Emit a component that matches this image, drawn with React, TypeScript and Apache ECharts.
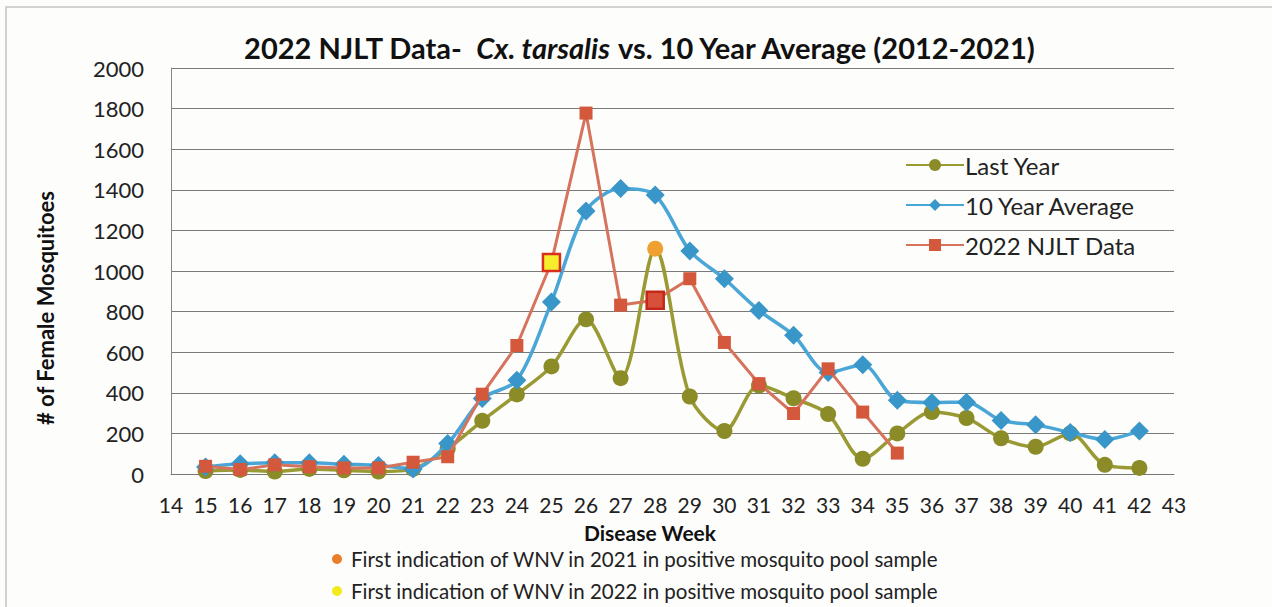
import React, { useEffect, useRef } from "react";
import * as echarts from "echarts";

const weeks = [15, 16, 17, 18, 19, 20, 21, 22, 23, 24, 25, 26, 27, 28, 29, 30, 31, 32, 33, 34, 35, 36, 37, 38, 39, 40, 41, 42];
const lastYear = [15, 20, 12, 25, 18, 12, 25, 125, 262, 392, 530, 762, 472, 1110, 382, 212, 436, 373, 295, 75, 200, 305, 276, 176, 134, 200, 45, 30];
const tenYearAvg = [35, 50, 55, 55, 48, 42, 25, 150, 372, 462, 847, 1296, 1406, 1374, 1099, 962, 806, 684, 500, 538, 363, 352, 354, 264, 242, 205, 170, 212];
const njlt2022 = [38, 22, 45, 36, 30, 30, 58, 85, 393, 633, 1042, 1778, 832, 856, 962, 648, 445, 298, 518, 305, 103];
const xTicks = { min: 14, max: 43, step: 1 };
const yTicks = { min: 0, max: 2000, step: 200 };
const firstWnv2021Week = 28;
const firstWnv2022Week = 25;
const emphasized2022Week = 28;

const FONT = "Lato, 'Open Sans', sans-serif";

export default function App() {
  const ref = useRef<HTMLDivElement>(null);
  useEffect(() => {
    document.body.style.margin = "0";
    const chart = echarts.init(ref.current!, null, { renderer: "svg" });

    const olive = "#9a9a35";
    const oliveM = "#8b8b28";
    const blue = "#4aa6d6";
    const blueM = "#3996c8";
    const red = "#d6735c";
    const redM = "#d4583c";

    const lyData = weeks.map((w, i) =>
      w === firstWnv2021Week
        ? { value: [w, lastYear[i]], itemStyle: { color: "#f0a030" } }
        : [w, lastYear[i]]
    );
    const tyData = weeks.map((w, i) => [w, tenYearAvg[i]]);
    const njData = njlt2022.map((v, i) => {
      const w = weeks[i];
      if (w === firstWnv2022Week)
        return { value: [w, v], symbolSize: 17, itemStyle: { color: "#f6ee2c", borderColor: "#d8301c", borderWidth: 2.5 } };
      if (w === emphasized2022Week)
        return { value: [w, v], symbolSize: 17, itemStyle: { color: "#d9503a", borderColor: "#c32818", borderWidth: 2.5 } };
      return [w, v];
    });

    chart.setOption({
      animation: false,
      backgroundColor: "#fdfdfc",
      textStyle: { fontFamily: FONT },
      title: {
        text: "{b|2022 NJLT Data-  }{i|Cx. tarsalis}{b| vs. 10 Year Average (2012-2021)}",
        left: 635,
        textAlign: "center",
        top: 28,
        textStyle: {
          rich: {
            b: { fontFamily: FONT, fontWeight: "bold", fontSize: 29, color: "#111" },
            i: { fontFamily: FONT, fontWeight: "bold", fontStyle: "italic", fontSize: 29, color: "#111" },
          },
        },
      },
      grid: { left: 171, right: 98, top: 68, bottom: 133, containLabel: false },
      legend: {
        orient: "vertical",
        left: 900,
        top: 146,
        itemWidth: 58,
        itemHeight: 15,
        itemGap: 12,
        textStyle: { fontFamily: FONT, fontSize: 24, lineHeight: 28, color: "#222", padding: [0, 0, 0, -4] },
        data: ["Last Year", "10 Year Average", "2022 NJLT Data"],
      },
      xAxis: {
        type: "value",
        min: xTicks.min,
        max: xTicks.max,
        interval: xTicks.step,
        axisLine: { lineStyle: { color: "#777", width: 1 } },
        axisTick: { show: false },
        splitLine: { show: false },
        axisLabel: { fontFamily: FONT, fontSize: 21, color: "#222", margin: 20 },
      },
      yAxis: {
        type: "value",
        min: yTicks.min,
        max: yTicks.max,
        interval: yTicks.step,
        axisLine: { show: true, lineStyle: { color: "#888", width: 1 } },
        axisTick: { show: false },
        splitLine: { lineStyle: { color: "#7a7a7a", width: 1 } },
        axisLabel: { fontFamily: FONT, fontSize: 22, color: "#222", margin: 27, formatter: (v: number) => String(v) },
      },
      series: [
        {
          name: "Last Year",
          type: "line",
          smooth: 0.3,
          data: lyData,
          symbol: "circle",
          symbolSize: 16,
          lineStyle: { color: olive, width: 3.5 },
          itemStyle: { color: oliveM },
          z: 2,
        },
        {
          name: "10 Year Average",
          type: "line",
          smooth: 0.3,
          data: tyData,
          symbol: "diamond",
          symbolSize: 19,
          lineStyle: { color: blue, width: 3.5 },
          itemStyle: { color: blueM },
          z: 3,
        },
        {
          name: "2022 NJLT Data",
          type: "line",
          data: njData,
          symbol: "rect",
          symbolSize: 13,
          lineStyle: { color: red, width: 3 },
          itemStyle: { color: redM },
          z: 4,
        },
      ],
      graphic: [
        {
          type: "rect",
          shape: { x: 6, y: 7, width: 1400, height: 800 },
          style: { fill: "none", stroke: "#c4c4c4", lineWidth: 1.5 },
          silent: true,
        },
        {
          type: "text",
          x: 45,
          y: 308,
          rotation: Math.PI / 2,
          style: {
            text: "# of Female Mosquitoes",
            fontFamily: FONT,
            fontWeight: "bold",
            fontSize: 22,
            fill: "#111",
            align: "center",
            verticalAlign: "middle",
          },
        },
        {
          type: "text",
          x: 650,
          y: 532,
          style: {
            text: "Disease Week",
            fontFamily: FONT,
            fontWeight: "bold",
            fontSize: 21,
            fill: "#111",
            align: "center",
            verticalAlign: "middle",
          },
        },
        { type: "circle", shape: { cx: 337, cy: 559, r: 5 }, style: { fill: "#e87d2a" } },
        {
          type: "text",
          x: 351,
          y: 559,
          style: {
            text: "First indication of WNV in 2021 in positive mosquito pool sample",
            fontFamily: FONT,
            fontSize: 20.5,
            fill: "#222",
            verticalAlign: "middle",
          },
        },
        { type: "circle", shape: { cx: 337, cy: 591, r: 5 }, style: { fill: "#f3ea1c" } },
        {
          type: "text",
          x: 351,
          y: 591,
          style: {
            text: "First indication of WNV in 2022 in positive mosquito pool sample",
            fontFamily: FONT,
            fontSize: 20.5,
            fill: "#222",
            verticalAlign: "middle",
          },
        },
      ],
    });
    return () => chart.dispose();
  }, []);
  return <div ref={ref} style={{ width: 1272, height: 607 }} />;
}
